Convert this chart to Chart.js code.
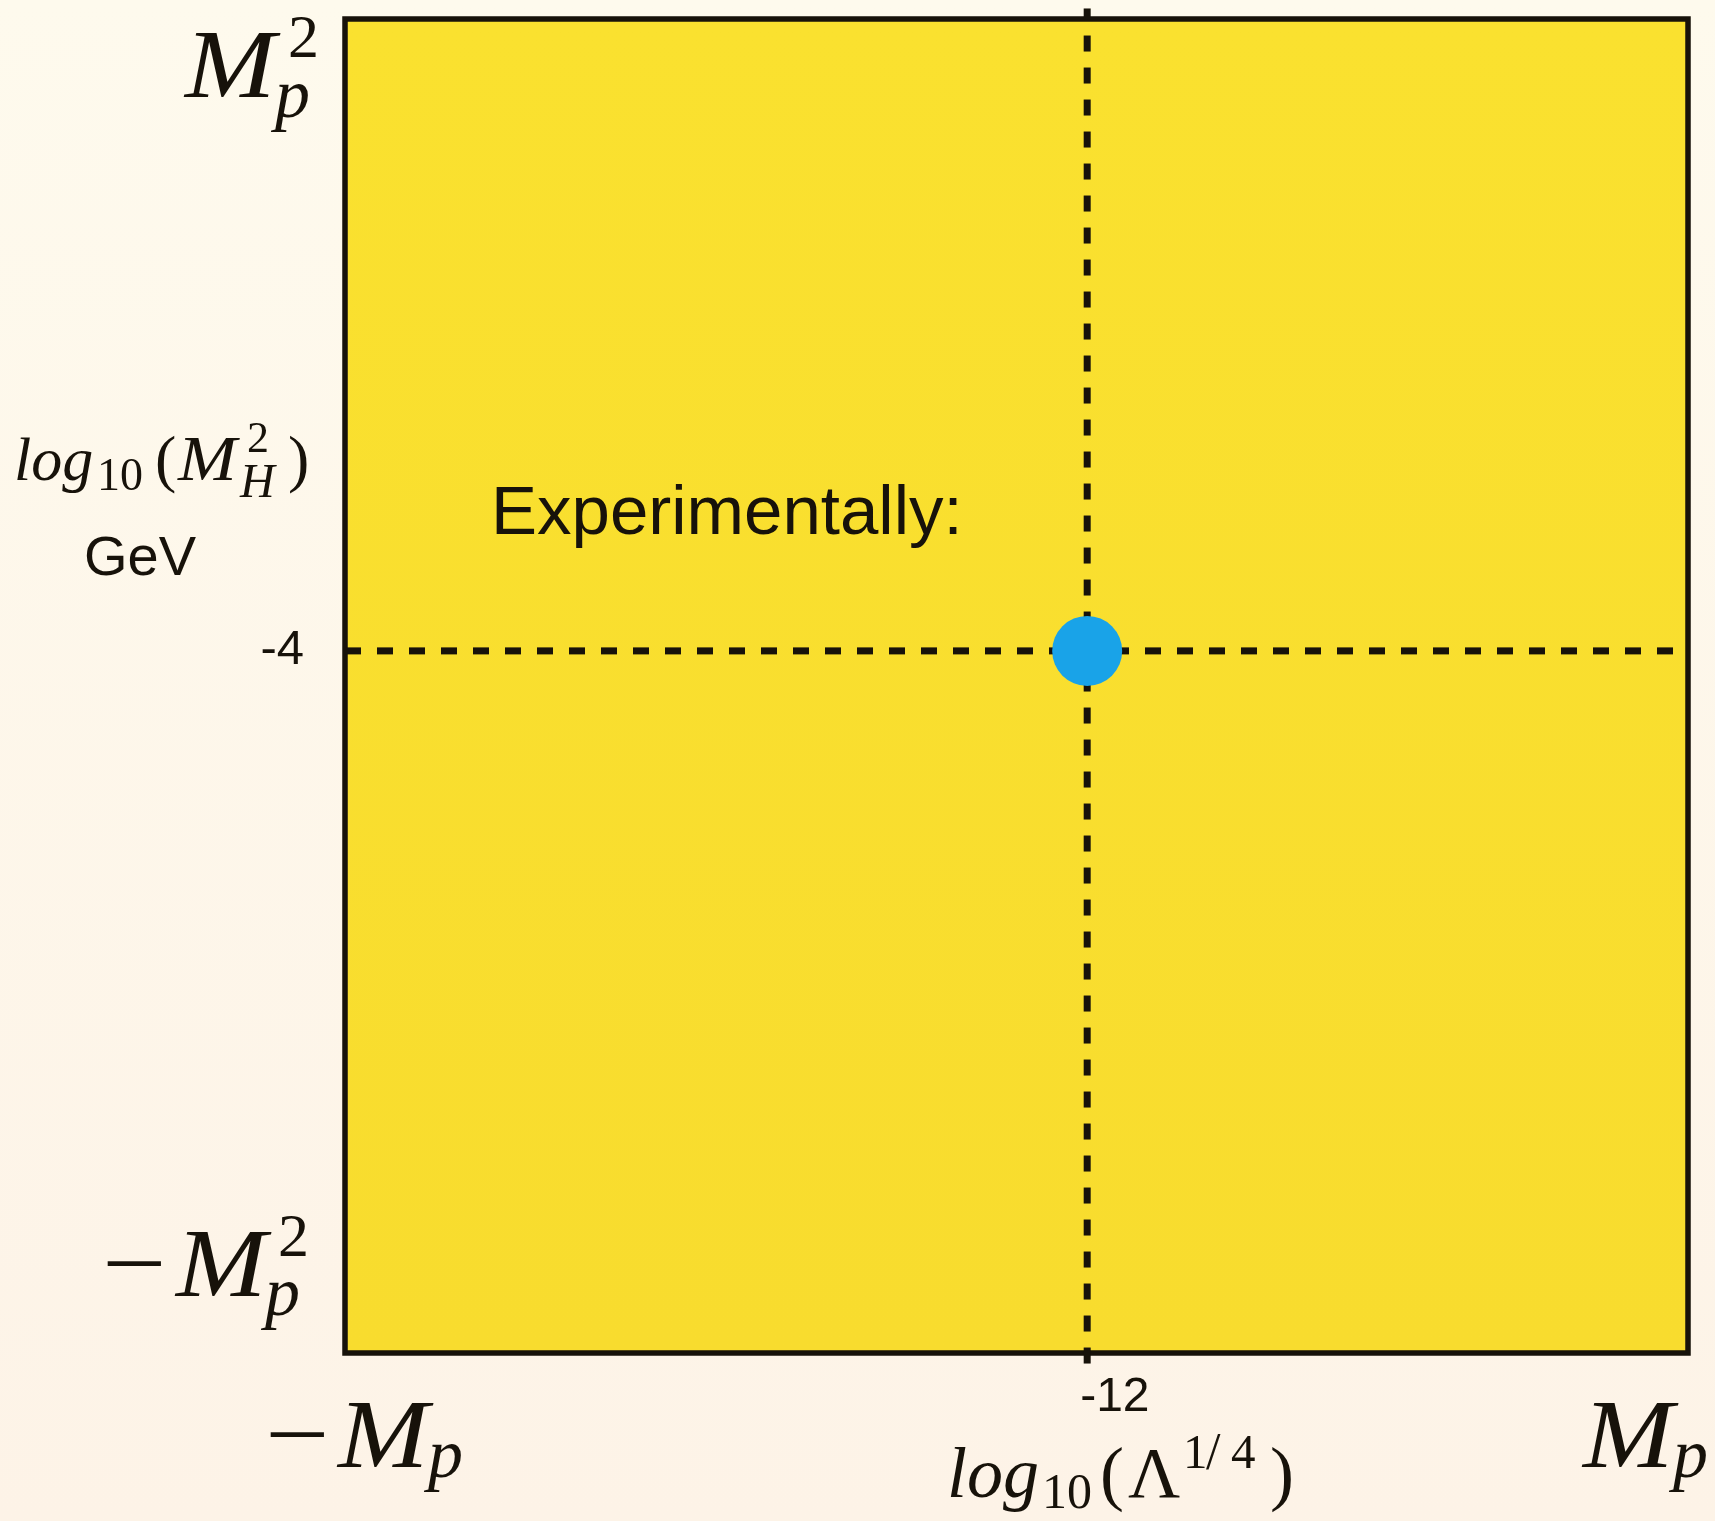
<!DOCTYPE html>
<html>
<head>
<meta charset="utf-8">
<title>Higgs mass vs cosmological constant</title>
<script src="https://cdn.jsdelivr.net/npm/chart.js@4.4.1/dist/chart.umd.min.js"></script>
<style>
  html, body { margin: 0; padding: 0; }
  body { width: 1715px; height: 1521px; overflow: hidden; background: linear-gradient(#fefaed, #fdf3e7); }
  #wrap { position: relative; width: 1715px; height: 1521px; }
</style>
</head>
<body>
<div id="wrap"><canvas id="chart"></canvas></div>
<script>
// Axis ranges (log10 units, the sketch is not to scale)
const xRange = [-33, 5];
const yRange = [-24, 14];
const xTicks = [-12];
const yTicks = [-4];

// Measured values: log10(Lambda^1/4) = -12, log10(M_H^2) = -4
const pointX = [-12];
const pointY = [-4];

// Dashed guides through the measured point
const vLineX = [-12, -12];
const vLineY = [-24.3, 14.3];
const hLineX = [-33, 5];
const hLineY = [-4, -4];

const INK = '#17120a';
const SANS = '"Liberation Sans", Arial, sans-serif';
const SERIF = '"Liberation Serif", "Times New Roman", serif';

const toPts = (xs, ys) => xs.map((x, i) => ({ x, y: ys[i] }));

// TeX-like labels: runs of text relative to an anchor baseline
const mathLabels = [
  { x: 185, y: 97, runs: [
    { t: 'M', it: true, size: 97, dx: 0, sx: 1.12 },
    { t: '2', size: 62, dx: 103, dy: -40 },
    { t: 'p', it: true, size: 70, dx: 90, dy: 20 }
  ] },
  { x: 176, y: 1296, runs: [
    { t: '\u2212', size: 97, dx: -74, sx: 1.18 },
    { t: 'M', it: true, size: 97, dx: 0, sx: 1.12 },
    { t: '2', size: 62, dx: 102, dy: -40 },
    { t: 'p', it: true, size: 70, dx: 89, dy: 19 }
  ] },
  { x: 338, y: 1467, runs: [
    { t: '\u2212', size: 97, dx: -73, sx: 1.18 },
    { t: 'M', it: true, size: 97, dx: 0, sx: 1.12 },
    { t: 'p', it: true, size: 70, dx: 90, dy: 10 }
  ] },
  { x: 1583, y: 1467, runs: [
    { t: 'M', it: true, size: 97, dx: 0, sx: 1.12 },
    { t: 'p', it: true, size: 70, dx: 90, dy: 10 }
  ] },
  { x: 14, y: 480, runs: [
    { t: 'log', it: true, size: 62, dx: 0 },
    { t: '10', size: 46, dx: 83, dy: 10 },
    { t: '(', size: 64, dx: 141 },
    { t: 'M', it: true, size: 64, dx: 164, sx: 1.1 },
    { t: '2', size: 44, dx: 233, dy: -28 },
    { t: 'H', it: true, size: 48, dx: 226, dy: 17 },
    { t: ')', size: 64, dx: 274 }
  ] },
  { x: 947, y: 1497, runs: [
    { t: 'log', it: true, size: 72, dx: 0 },
    { t: '10', size: 50, dx: 95, dy: 11 },
    { t: '(', size: 72, dx: 153 },
    { t: '\u039B', size: 72, dx: 181 },
    { t: '1', size: 49, dx: 236, dy: -29 },
    { t: '/', size: 52, dx: 259, dy: -28 },
    { t: '4', size: 49, dx: 284, dy: -29 },
    { t: ')', size: 72, dx: 323 }
  ] }
];

function drawRuns(ctx, label) {
  label.runs.forEach(r => {
    ctx.save();
    ctx.font = (r.it ? 'italic ' : '') + r.size + 'px ' + SERIF;
    ctx.translate(label.x + r.dx, label.y + (r.dy || 0));
    if (r.sx) ctx.scale(r.sx, 1);
    ctx.fillText(r.t, 0, 0);
    ctx.restore();
  });
}

const framePlugin = {
  id: 'frame',
  beforeDatasetsDraw(chart) {
    const { ctx, chartArea: a } = chart;
    ctx.save();
    const g = ctx.createLinearGradient(0, a.top, 0, a.bottom);
    g.addColorStop(0, '#fae12f');
    g.addColorStop(1, '#f8dc2e');
    ctx.fillStyle = g;
    ctx.fillRect(a.left, a.top, a.right - a.left, a.bottom - a.top);
    ctx.lineWidth = 5.5;
    ctx.strokeStyle = INK;
    ctx.strokeRect(a.left, a.top, a.right - a.left, a.bottom - a.top);
    ctx.restore();
  },
  afterDraw(chart) {
    const ctx = chart.ctx;
    ctx.save();
    ctx.fillStyle = INK;
    ctx.textAlign = 'left';
    ctx.textBaseline = 'alphabetic';
    mathLabels.forEach(l => drawRuns(ctx, l));

    ctx.font = '56px ' + SANS;
    ctx.fillText('GeV', 84, 575);
    ctx.font = '69px ' + SANS;
    ctx.fillText('Experimentally:', 491, 534);
    ctx.restore();
  }
};

new Chart(document.getElementById('chart'), {
  type: 'scatter',
  data: {
    datasets: [
      {
        label: 'Experimentally',
        data: toPts(pointX, pointY),
        backgroundColor: '#19a3e8',
        borderWidth: 0,
        pointRadius: 35,
        pointHoverRadius: 35
      },
      {
        label: 'vertical guide',
        data: toPts(vLineX, vLineY),
        showLine: true,
        borderColor: INK,
        borderWidth: 7,
        borderDash: [16, 16],
        pointRadius: 0,
        clip: false
      },
      {
        label: 'horizontal guide',
        data: toPts(hLineX, hLineY),
        showLine: true,
        borderColor: INK,
        borderWidth: 7,
        borderDash: [16, 16],
        pointRadius: 0,
        clip: false
      }
    ]
  },
  options: {
    responsive: true,
    maintainAspectRatio: false,
    animation: false,
    events: [],
    layout: { autoPadding: false, padding: { top: 19, right: 27, left: 0, bottom: 0 } },
    plugins: { legend: { display: false }, tooltip: { enabled: false } },
    scales: {
      x: {
        type: 'linear',
        min: xRange[0],
        max: xRange[1],
        afterBuildTicks: s => { s.ticks = xTicks.map(v => ({ value: v })); },
        afterFit: s => { s.height = 168; s.paddingLeft = 0; s.paddingRight = 0; },
        grid: { display: false, drawTicks: false },
        border: { display: false },
        ticks: {
          color: INK,
          font: { family: SANS, size: 48 },
          padding: 16,
          align: 'start',
          labelOffset: -7,
          maxRotation: 0,
          callback: v => String(v)
        }
      },
      y: {
        type: 'linear',
        min: yRange[0],
        max: yRange[1],
        afterBuildTicks: s => { s.ticks = yTicks.map(v => ({ value: v })); },
        afterFit: s => { s.width = 345; s.paddingTop = 0; s.paddingBottom = 0; },
        grid: { display: false, drawTicks: false },
        border: { display: false },
        ticks: {
          color: INK,
          font: { family: SANS, size: 49 },
          padding: 41,
          callback: v => String(v)
        }
      }
    }
  },
  plugins: [framePlugin]
});
</script>
</body>
</html>
